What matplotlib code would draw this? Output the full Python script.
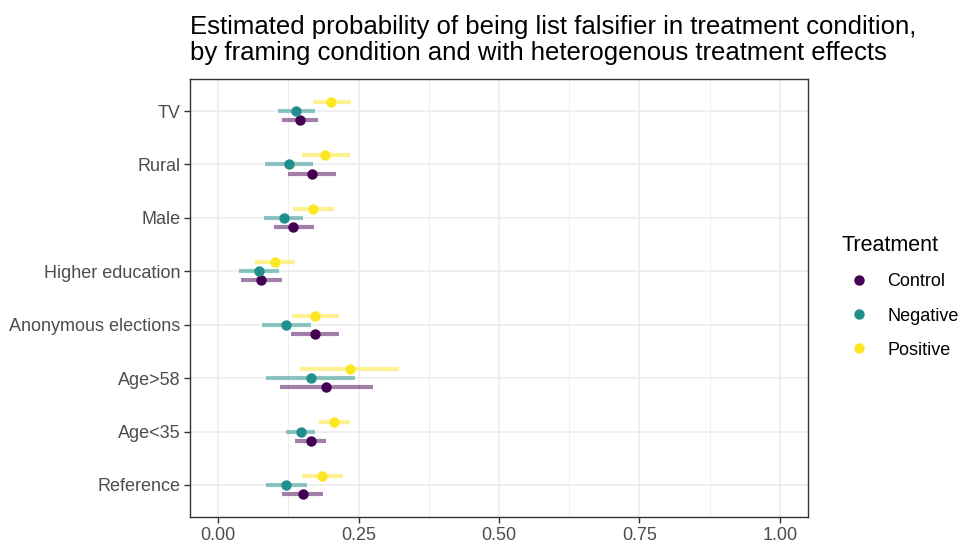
import numpy as np
import matplotlib
matplotlib.use("Agg")
import matplotlib.pyplot as plt
from matplotlib.lines import Line2D

plt.rcParams['font.family'] = ['Liberation Sans', 'DejaVu Sans']

# categories from bottom to top
cats = ["Reference", "Age<35", "Age>58", "Anonymous elections",
        "Higher education", "Male", "Rural", "TV"]

treat = ["Control", "Negative", "Positive"]
colors = {"Control": "#440154", "Negative": "#21908C", "Positive": "#FDE725"}

# point estimates (bottom to top)
est = {
    "Control":  [0.151, 0.165, 0.192, 0.172, 0.077, 0.134, 0.167, 0.146],
    "Negative": [0.121, 0.147, 0.165, 0.121, 0.072, 0.117, 0.126, 0.138],
    "Positive": [0.185, 0.206, 0.234, 0.173, 0.101, 0.169, 0.191, 0.201],
}
lo = {
    "Control":  [0.114, 0.137, 0.111, 0.129, 0.040, 0.099, 0.124, 0.113],
    "Negative": [0.086, 0.120, 0.086, 0.078, 0.037, 0.081, 0.084, 0.106],
    "Positive": [0.149, 0.180, 0.145, 0.131, 0.066, 0.134, 0.149, 0.169],
}
hi = {
    "Control":  [0.187, 0.192, 0.275, 0.216, 0.114, 0.171, 0.210, 0.178],
    "Negative": [0.159, 0.173, 0.243, 0.166, 0.108, 0.152, 0.169, 0.173],
    "Positive": [0.222, 0.234, 0.322, 0.216, 0.137, 0.206, 0.234, 0.236],
}
dodge = {"Control": -0.17, "Negative": 0.0, "Positive": 0.17}

fig = plt.figure(figsize=(9.6, 5.45), dpi=100)
ax = fig.add_axes([190/960, 1-517/545, (808-190)/960, (517-79)/545])

y = np.arange(len(cats))
for t in treat:
    yy = y + dodge[t]
    ax.hlines(yy, lo[t], hi[t], color=colors[t], alpha=0.5, lw=3, zorder=3)
    ax.plot(est[t], yy, 'o', color=colors[t], ms=7.5, zorder=4, mec='none')

ax.set_xlim(-0.05, 1.05)
ax.set_ylim(-0.6, len(cats) - 0.4)
ax.set_xticks([0, 0.25, 0.5, 0.75, 1.0])
ax.set_xticklabels(["0.00", "0.25", "0.50", "0.75", "1.00"])
ax.set_xticks([0.125, 0.375, 0.625, 0.875], minor=True)
ax.set_yticks(y)
ax.set_yticklabels(cats)
ax.grid(True, which='major', color='#EBEBEB', lw=1.1, zorder=0)
ax.grid(True, which='minor', axis='x', color='#EBEBEB', lw=0.6, zorder=0)
ax.set_axisbelow(True)
ax.tick_params(axis='both', which='major', length=4, width=1, color='#333333',
               labelcolor='#4D4D4D', labelsize=13, pad=3)
ax.tick_params(axis='x', which='minor', length=0)
for s in ax.spines.values():
    s.set_color('#333333')
    s.set_linewidth(1)

fig.text(190/960, 1-15/545,
         "Estimated probability of being list falsifier in treatment condition,\n"
         "by framing condition and with heterogenous treatment effects",
         ha='left', va='top', fontsize=18.5, linespacing=1.1)

handles = [Line2D([], [], marker='o', ls='', color=colors[t], ms=7.5, mec='none')
           for t in treat]
leg = fig.legend(handles, treat, title="Treatment", loc='center left',
                 bbox_to_anchor=(834/960, 1-297/545), frameon=False,
                 fontsize=13, title_fontsize=15.5, labelspacing=0.95,
                 handletextpad=0.55, borderaxespad=0)
leg._legend_box.align = "left"

fig.savefig("out.png", dpi=100)
